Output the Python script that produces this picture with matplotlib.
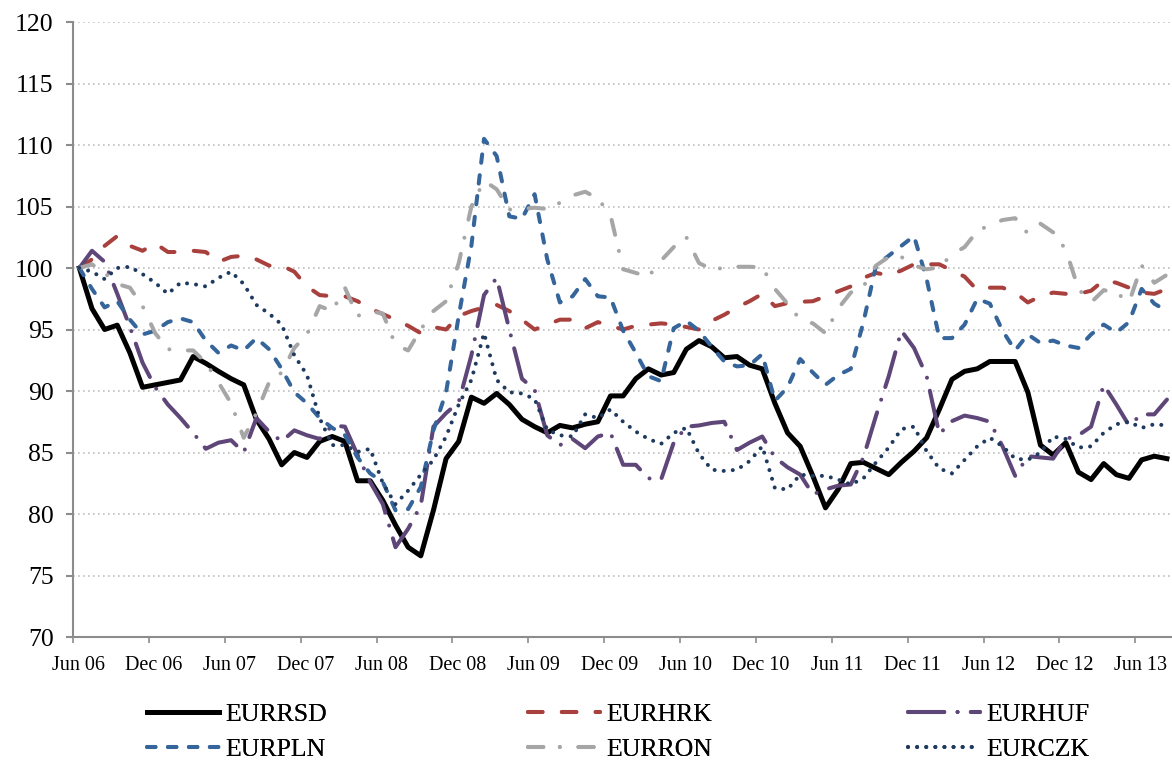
import matplotlib
matplotlib.use('Agg')
import matplotlib.pyplot as plt
import matplotlib.transforms as mtransforms
import numpy as np

plt.rcParams['font.family'] = ['Liberation Serif', 'DejaVu Serif']

#========================================================================================================================
# DATA (index, Jun 06 = 100, monthly)
#========================================================================================================================

tick_labels = ['Jun 06', 'Dec 06', 'Jun 07', 'Dec 07', 'Jun 08', 'Dec 08', 'Jun 09', 'Dec 09',
               'Jun 10', 'Dec 10', 'Jun 11', 'Dec 11', 'Jun 12', 'Dec 12', 'Jun 13']

eurrsd = [100.0, 96.7, 95.0, 95.35, 93.1, 90.3, 90.5, 90.7, 90.9, 92.8,
          92.25, 91.6, 91.0, 90.5, 87.7, 86.1, 84.0, 85.0, 84.6, 85.9,
          86.3, 85.9, 82.7, 82.7, 81.1, 79.1, 77.3, 76.6, 80.3, 84.5,
          85.9, 89.5, 89.0, 89.8, 88.9, 87.7, 87.1, 86.6, 87.2, 87.0,
          87.3, 87.5, 89.6, 89.6, 91.0, 91.8, 91.3, 91.5, 93.4, 94.1,
          93.6, 92.7, 92.8, 92.1, 91.8, 89.0, 86.6, 85.5, 83.1, 80.5,
          82.0, 84.1, 84.2, 83.7, 83.2, 84.2, 85.1, 86.2, 88.5, 90.95,
          91.6, 91.8, 92.4, 92.4, 92.4, 89.9, 85.6, 84.8, 85.8, 83.4,
          82.8, 84.1, 83.2, 82.9, 84.4, 84.7, 84.5]

eurhrk = [100.0, 100.7, 101.8, 102.6, 101.8, 101.4, 102.0, 101.3, 101.3, 101.4,
          101.3, 100.5, 100.9, 101.0, 100.7, 100.2, 100.2, 99.7, 98.5, 97.8,
          97.7, 97.7, 97.3, 96.7, 96.25, 95.8, 95.3, 94.7, 95.2, 95.0,
          96.1, 96.5, 96.8, 97.0, 96.5, 95.8, 95.0, 95.4, 95.8, 95.8,
          95.1, 95.6, 95.3, 95.0, 95.3, 95.4, 95.5, 95.4, 95.2, 95.0,
          95.7, 96.2, 96.8, 97.3, 97.9, 96.9, 97.15, 97.25, 97.3, 97.7,
          98.1, 98.5, 99.2, 99.6, 99.4, 99.8, 100.3, 100.3, 100.3, 99.8,
          99.3, 98.2, 98.4, 98.4, 98.0, 97.2, 97.7, 98.0, 97.9, 97.9,
          98.15, 99.0, 98.8, 98.4, 98.0, 97.9, 98.3]

eurhuf = [100.0, 101.4, 100.5, 97.9, 95.2, 92.3, 90.3, 88.9, 87.8, 86.6,
          85.3, 85.8, 86.0, 85.0, 87.8, 86.7, 85.9, 86.8, 86.4, 86.1,
          87.2, 87.1, 84.8, 82.6, 80.8, 77.3, 78.8, 80.7, 87.1, 88.2,
          89.1, 92.9, 97.8, 99.2, 95.0, 91.0, 90.1, 86.4, 85.6, 86.1,
          85.35, 86.3, 86.6, 84.0, 84.0, 82.9, 82.8, 85.8, 87.1, 87.2,
          87.4, 87.5, 85.2, 85.8, 86.3, 84.6, 83.8, 83.2, 81.6, 82.0,
          82.3, 82.4, 84.6, 88.0, 91.2, 94.9, 93.5, 91.2, 86.5, 87.55,
          88.0, 87.8, 87.5, 85.5, 83.1, 84.7, 84.6, 84.5, 86.1, 86.4,
          87.1, 90.5, 88.9, 87.2, 88.1, 88.1, 89.3]

eurpln = [100.0, 98.3, 96.8, 97.3, 95.8, 94.6, 94.9, 95.6, 95.9, 95.6,
          94.1, 93.1, 93.7, 93.3, 94.3, 93.4, 91.8, 89.9, 89.0, 87.8,
          87.0, 86.4, 84.6, 83.3, 82.6, 80.3, 80.4, 82.2, 86.8, 89.9,
          96.1, 101.8, 110.5, 109.1, 104.2, 104.0, 106.0, 100.7, 97.2, 97.7,
          99.1, 97.7, 97.6, 94.9, 93.1, 91.2, 90.8, 95.1, 95.7, 94.9,
          93.6, 92.4, 92.0, 92.1, 93.0, 89.2, 90.3, 92.6, 91.5, 90.5,
          91.3, 91.8, 95.6, 100.2, 101.0, 101.8, 102.6, 99.1, 94.3, 94.3,
          95.4, 97.5, 97.1, 94.9, 93.3, 94.6, 93.9, 94.1, 93.7, 93.5,
          94.6, 95.4, 94.75, 95.6, 98.3, 97.1, 96.5]

eurron = [100.0, 100.3, 99.6, 98.7, 98.4, 96.9, 94.7, 93.4, 93.3, 93.3,
          92.3, 90.7, 89.0, 86.2, 88.2, 90.7, 91.5, 93.5, 94.6, 96.9,
          96.5, 98.4, 96.1, 96.5, 96.3, 93.75, 93.3, 95.0, 96.5, 97.3,
          100.4, 105.0, 107.1, 106.4, 104.75, 104.8, 104.9, 104.8, 105.3, 105.9,
          106.2, 105.65, 104.3, 99.9, 99.6, 99.3, 100.6, 101.7, 102.5, 100.4,
          99.9, 100.0, 100.1, 100.1, 100.05, 98.3, 97.1, 95.8, 95.5, 94.7,
          96.7, 98.0, 98.5, 100.2, 100.9, 100.9, 100.2, 99.9, 100.05, 101.1,
          101.7, 103.0, 103.5, 103.9, 104.05, 102.8, 103.6, 102.9, 101.5, 98.3,
          97.2, 98.2, 98.0, 97.2, 100.2, 98.8, 99.45]

eurczk = [100.0, 99.7, 99.1, 100.0, 100.1, 99.5, 98.8, 97.9, 98.8, 98.7,
          98.5, 99.2, 99.7, 98.7, 97.0, 96.3, 95.4, 92.9, 91.3, 87.8,
          85.6, 85.6, 85.05, 85.3, 82.5, 80.8, 81.9, 83.2, 84.4, 86.3,
          88.9, 90.9, 94.7, 90.9, 89.9, 89.8, 89.35, 86.85, 86.4, 86.3,
          88.1, 87.8, 88.5, 87.5, 86.7, 86.1, 85.7, 86.6, 87.0, 84.9,
          83.6, 83.5, 83.6, 84.3, 85.5, 82.1, 82.0, 83.2, 83.1, 83.1,
          82.8, 82.4, 82.9, 84.2, 85.4, 86.9, 87.1, 85.1, 83.7, 83.3,
          84.4, 85.5, 86.2, 85.5, 84.5, 84.4, 85.0, 86.3, 86.1, 85.4,
          85.5, 86.6, 87.3, 87.5, 87.0, 87.3, 87.2]

#========================================================================================================================
# PLOT
#========================================================================================================================

months = np.arange(len(eurrsd)) + 0.5

fig = plt.figure(figsize=(11.72, 7.6), dpi=100)
ax = fig.add_axes([73/1172, 1 - 637/760, (1172 - 73)/1172, (637 - 22)/760])

lw = 2.9
series = [
    ('EURRSD', eurrsd, dict(color='black', lw=3.6, linestyle='-')),
    ('EURHRK', eurhrk, dict(color='#A8403D', lw=lw, linestyle=(0, (3.6, 4.8)), dash_capstyle='round')),
    ('EURHUF', eurhuf, dict(color='#5E4679', lw=lw, linestyle=(0, (9.0, 3.3, 0.01, 3.3)), dash_capstyle='round')),
    ('EURPLN', eurpln, dict(color='#35659A', lw=lw, linestyle=(0, (2.1, 3.1)), dash_capstyle='round')),
    ('EURRON', eurron, dict(color='#A6A6A6', lw=lw, linestyle=(0, (3.8, 4.1, 0.01, 4.6)), dash_capstyle='round')),
    ('EURCZK', eurczk, dict(color='#1F3A5F', lw=2.9, linestyle=(0, (0.01, 2.25)), dash_capstyle='round')),
]

handles = {}
for name, vals, style in series:
    line, = ax.plot(months, vals, label=name, solid_joinstyle='round', **style)
    handles[name] = line

ax.set_ylim(70, 120)
ax.set_xlim(0, 86.9)
ax.set_yticks(np.arange(70, 121, 5))
ax.set_xticks(np.arange(0, 85, 6))
ax.set_xticklabels(tick_labels)

ax.yaxis.grid(True, linestyle=(0, (1, 2)), color='#BFBFBF', linewidth=1.2)
ax.set_axisbelow(True)

for side in ['top', 'right']:
    ax.spines[side].set_visible(False)
for side in ['left', 'bottom']:
    ax.spines[side].set_color('#8C8C8C')
    ax.spines[side].set_linewidth(1.5)

ax.tick_params(axis='y', direction='out', length=5, width=1.5, color='#8C8C8C', labelsize=18.5, pad=9)
ax.tick_params(axis='x', direction='out', length=4.5, width=1.2, color='#8C8C8C', labelsize=14.5, pad=9)

# x labels sit a little to the right of their ticks
offset = mtransforms.ScaledTranslation(5/100, 0, fig.dpi_scale_trans)
for lab in ax.get_xticklabels():
    lab.set_transform(lab.get_transform() + offset)

# legend in three columns, placed one by one
cols = [(['EURRSD', 'EURPLN'], 147), (['EURHRK', 'EURRON'], 528), (['EURHUF', 'EURCZK'], 908)]
for names, x0 in cols:
    leg = fig.legend([handles[n] for n in names], names, loc='upper left',
                     bbox_to_anchor=(x0/1172, 1 - 703/760), frameon=False,
                     fontsize=18.5, handlelength=2.8, handletextpad=0.25,
                     labelspacing=0.45, borderaxespad=0, borderpad=0)
    fig.add_artist(leg)

fig.savefig('out.png', dpi=100)
